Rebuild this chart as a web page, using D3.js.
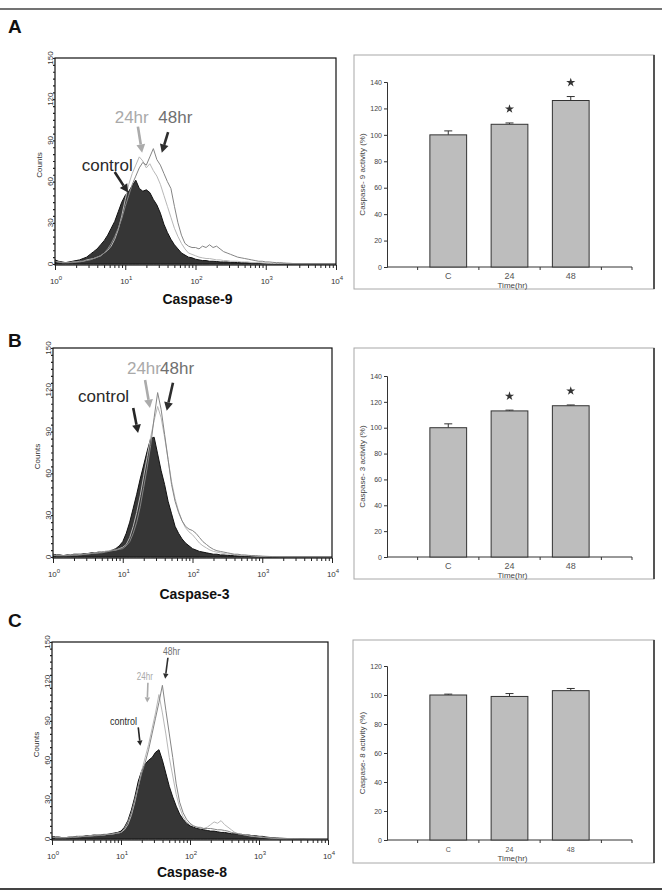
<!DOCTYPE html>
<html>
<head>
<meta charset="utf-8">
<script src="https://cdn.jsdelivr.net/npm/d3@7"></script>
<style>
  body { margin: 0; background: #fff; }
  svg { display: block; font-family: "Liberation Sans", Arial, sans-serif; }
</style>
</head>
<body>
<svg id="fig" width="662" height="892"></svg>
<script>
// ---- data ----
// log10 channel position of every histogram bin
const histLog = d3.range(81).map((i) => i * 0.05);

const casp9Control = [
  3, 2, 1.5, 1, 1.5, 2, 2.5, 3, 4, 5,
  7, 9, 11, 14, 17, 21, 26, 31, 38, 45,
  50, 53, 57, 61, 55, 53, 54, 52, 47, 43,
  37, 29, 23, 18, 14, 11, 8, 6.5, 5, 4.5,
  3.5, 3, 2.5, 2.5, 2, 2, 1.8, 1.5, 1.5, 1.5,
  1.2, 1.2, 1, 1, 1, 0.8, 0.6, 0.5, 0.4, 0.3,
  0.3, 0.2, 0.2, 0.1, 0.1, 0.1, 0, 0, 0, 0,
  0, 0, 0, 0, 0, 0, 0, 0, 0, 0, 0,
];
const casp9H24 = [
  2, 1.5, 1, 1, 1, 1.5, 1.5, 2, 2, 3,
  3.5, 4, 5, 6, 8, 10, 13, 18, 25, 35,
  47, 58, 66, 72, 78, 75, 70, 73, 68, 64,
  58, 50, 42, 34, 26, 20, 15, 11, 8, 7,
  6, 5, 4.5, 4, 4, 3.5, 3, 3, 2.5, 2.5,
  2, 2, 2, 1.5, 1.5, 1.5, 1, 1, 1, 0.8,
  0.6, 0.5, 0.4, 0.3, 0.3, 0.2, 0.2, 0.1, 0, 0,
  0, 0, 0, 0, 0, 0, 0, 0, 0, 0, 0,
];
const casp9H48 = [
  2, 1.5, 1, 1, 1, 1, 1.5, 1.5, 2, 2.5,
  3, 4, 5, 6, 8, 11, 15, 20, 26, 33,
  42, 50, 58, 64, 70, 74, 72, 78, 84, 76,
  72, 66, 60, 55, 42, 30, 21, 15, 13, 12,
  12, 11, 13, 12, 14, 12, 13, 11, 9, 8,
  7, 6, 5, 4.5, 4, 3.5, 3, 2.5, 2, 2,
  1.5, 1.5, 1.2, 1, 1, 0.8, 0.6, 0.5, 0.3, 0.2,
  0.2, 0.1, 0, 0, 0, 0, 0, 0, 0, 0, 0,
];

const casp3Control = [
  2, 1.5, 1.5, 1, 1.5, 1.5, 2, 2, 2, 2.5,
  2.5, 3, 3, 3.5, 3.5, 4, 4, 5, 6, 8,
  11, 17, 25, 35, 45, 56, 66, 76, 85, 86,
  74, 62, 52, 40, 31, 22, 17, 13, 10, 8,
  6, 5, 4, 3.5, 3, 2.5, 2, 2, 1.5, 1.5,
  1.2, 1, 1, 0.8, 0.6, 0.5, 0.4, 0.3, 0.2, 0.2,
  0.1, 0.1, 0, 0, 0, 0, 0, 0, 0, 0,
  0, 0, 0, 0, 0, 0, 0, 0, 0, 0, 0,
];
const casp3H24 = [
  1.5, 1, 1, 1, 1, 1.5, 1.5, 1.5, 2, 2,
  2.5, 2.5, 3, 3, 3.5, 4, 4.5, 5, 5, 6,
  7, 9, 14, 22, 32, 44, 58, 72, 86, 98,
  108, 100, 86, 70, 54, 42, 33, 26, 21, 18,
  16, 13, 10, 8, 6.5, 5, 4, 3.5, 3, 2.5,
  2, 2, 1.5, 1.5, 1.2, 1, 1, 0.8, 0.6, 0.5,
  0.4, 0.3, 0.3, 0.2, 0.2, 0.1, 0.1, 0, 0, 0,
  0, 0, 0, 0, 0, 0, 0, 0, 0, 0, 0,
];
const casp3H48 = [
  1.5, 1, 1, 1, 1, 1, 1.5, 1.5, 1.5, 2,
  2, 2.5, 2.5, 3, 3, 3.5, 4, 4.5, 5, 5.5,
  6, 8, 11, 17, 25, 36, 50, 64, 80, 100,
  118, 106, 88, 70, 52, 40, 32, 26, 22, 20,
  19, 17, 14, 11, 9, 7, 5.5, 4.5, 4, 3.5,
  3, 2.5, 2, 2, 1.5, 1.5, 1.2, 1, 1, 0.8,
  0.6, 0.5, 0.4, 0.3, 0.3, 0.2, 0.2, 0.1, 0.1, 0,
  0, 0, 0, 0, 0, 0, 0, 0, 0, 0, 0,
];

const casp8Control = [
  2, 1.5, 1.5, 1, 1, 1.5, 1.5, 2, 2, 2,
  2.5, 2.5, 3, 3, 3, 3.5, 3.5, 4, 4.5, 5,
  6, 9, 14, 22, 32, 44, 52, 57, 60, 62,
  66, 68, 60, 50, 40, 32, 25, 19, 15, 12,
  10, 9, 8, 7.5, 7, 6.5, 6, 6, 5.5, 5,
  5, 4.5, 4, 4, 3.5, 3.5, 3, 3, 2.5, 2.5,
  2, 2, 1.5, 1.2, 1, 0.8, 0.6, 0.5, 0.4, 0.3,
  0.2, 0.2, 0.1, 0.1, 0, 0, 0, 0, 0, 0, 0,
];
const casp8H24 = [
  1.5, 1, 1, 1, 1, 1.5, 1.5, 1.5, 2, 2,
  2, 2.5, 2.5, 3, 3, 3, 3.5, 3.5, 4, 4.5,
  5, 7, 11, 18, 28, 40, 52, 62, 72, 84,
  96, 110, 96, 80, 62, 48, 34, 24, 17, 13,
  11, 10, 9, 9, 8, 9, 11, 13, 12, 14,
  11, 9, 7, 5, 4, 3.5, 3, 2.5, 2, 1.8,
  1.5, 1.2, 1, 0.8, 0.6, 0.5, 0.4, 0.3, 0.2, 0.2,
  0.1, 0.1, 0, 0, 0, 0, 0, 0, 0, 0, 0,
];
const casp8H48 = [
  1.5, 1, 1, 1, 1, 1, 1.5, 1.5, 1.5, 2,
  2, 2, 2.5, 2.5, 3, 3, 3.5, 3.5, 4, 4.5,
  5, 8, 13, 20, 30, 40, 50, 58, 68, 80,
  92, 104, 117, 98, 80, 62, 42, 28, 20, 15,
  12, 10, 9, 8.5, 8, 8, 8, 7.5, 7, 7,
  6.5, 6, 5, 4.5, 4, 3.5, 3, 3, 2.5, 2,
  2, 1.5, 1.2, 1, 0.8, 0.6, 0.5, 0.4, 0.3, 0.2,
  0.2, 0.1, 0, 0, 0, 0, 0, 0, 0, 0, 0,
];

const countTicks = [0, 30, 60, 90, 120, 150];
const decadeTicks = [1, 10, 100, 1000, 10000];
const decadeExp = ["0", "1", "2", "3", "4"];

// bar charts
const timeCategories = ["C", "24", "48"];
const casp9Activity = [100, 108, 126];
const casp9Error = [3, 1, 3];
const casp9Signif = [false, true, true];
const casp3Activity = [100, 113, 117];
const casp3Error = [3, 0.6, 0.6];
const casp3Signif = [false, true, true];
const casp8Activity = [100, 99, 103];
const casp8Error = [0.6, 2, 1.5];
const casp8Signif = [false, false, false];

// arrow annotations, in data coordinates (log10 intensity, counts)
const casp9Notes = [
  { text: "24hr", kind: "h24", at: [0.85, 103], from: [1.18, 100], to: [1.24, 81] },
  { text: "48hr", kind: "h48", at: [1.47, 103], from: [1.61, 96], to: [1.52, 81] },
  { text: "control", kind: "ctl", at: [0.38, 68], from: [0.85, 67], to: [1.04, 52] },
];
const casp3Notes = [
  { text: "24hr", kind: "h24", at: [1.06, 131], from: [1.32, 127], to: [1.39, 107] },
  { text: "48hr", kind: "h48", at: [1.535, 131], from: [1.72, 125], to: [1.63, 105] },
  { text: "control", kind: "ctl", at: [0.36, 111], from: [1.15, 107], to: [1.22, 89] },
];
const casp8Notes = [
  { text: "48hr", kind: "h48", at: [1.61, 140], from: [1.68, 138], to: [1.64, 122] },
  { text: "24hr", kind: "h24", at: [1.23, 121], from: [1.39, 119], to: [1.38, 104] },
  { text: "control", kind: "ctl", at: [0.84, 87], from: [1.25, 85], to: [1.28, 71] },
];

// ---- styles ----
const textColors = { ctl: "#2a2a2a", h24: "#a9a9a9", h48: "#707070" };
const arrowColors = { ctl: "#262626", h24: "#ababab", h48: "#2e2e2e" };

const svg = d3.select("#fig");

// outer rules
svg.append("line").attr("x1", 0).attr("x2", 662).attr("y1", 9).attr("y2", 9)
  .attr("stroke", "#444").attr("stroke-width", 1.5);
svg.append("line").attr("x1", 0).attr("x2", 662).attr("y1", 889).attr("y2", 889)
  .attr("stroke", "#444").attr("stroke-width", 2);

const histPanels = [
  { letter: "A", letterY: 33, title: "Caspase-9", titleY: 304,
    series: [casp9Control, casp9H24, casp9H48], notes: casp9Notes,
    left: 55, top: 58, right: 336, bottom: 265, zero: 264, noteSize: 17, noteW: null, arrowW: 2.6 },
  { letter: "B", letterY: 347, title: "Caspase-3", titleY: 599,
    series: [casp3Control, casp3H24, casp3H48], notes: casp3Notes,
    left: 53, top: 348, right: 332, bottom: 558, zero: 557, noteSize: 17, noteW: null, arrowW: 2.6 },
  { letter: "C", letterY: 627, title: "Caspase-8", titleY: 877,
    series: [casp8Control, casp8H24, casp8H48], notes: casp8Notes,
    left: 52, top: 642, right: 328, bottom: 840, zero: 839, noteSize: 11, noteW: { ctl: 27, h24: 16, h48: 17 }, arrowW: 1.6 },
];

const drawArrow = (g, p0, p1, color, w) => {
  const ang = Math.atan2(p1[1] - p0[1], p1[0] - p0[0]);
  const head = w * 3.2;
  const hw = w * 1.7;
  const base = [p1[0] - head * Math.cos(ang), p1[1] - head * Math.sin(ang)];
  g.append("line")
    .attr("x1", p0[0]).attr("y1", p0[1])
    .attr("x2", base[0]).attr("y2", base[1])
    .attr("stroke", color).attr("stroke-width", w);
  const pts = [
    p1,
    [base[0] + hw * Math.sin(ang), base[1] - hw * Math.cos(ang)],
    [base[0] - hw * Math.sin(ang), base[1] + hw * Math.cos(ang)],
  ];
  g.append("polygon").attr("points", pts.map((p) => p.join(",")).join(" ")).attr("fill", color);
};

histPanels.forEach((p, pi) => {
  const x = d3.scaleLog().domain([1, 10000]).range([p.left, p.right]);
  const y = d3.scaleLinear().domain([0, 150]).range([p.zero, p.top]);
  const g = svg.append("g");

  g.append("text").attr("x", 8).attr("y", p.letterY).text(p.letter)
    .attr("font-size", 19).attr("font-weight", "bold").attr("fill", "#111");

  const clipId = "clip" + pi;
  g.append("clipPath").attr("id", clipId).append("rect")
    .attr("x", p.left).attr("y", p.top).attr("width", p.right - p.left).attr("height", p.bottom - p.top);

  const toPts = (arr) => arr.map((c, i) => ({ log: histLog[i], count: c }));
  const area = d3.area()
    .x((d) => x(Math.pow(10, d.log))).y0(y(0)).y1((d) => y(d.count));
  const line = d3.line()
    .x((d) => x(Math.pow(10, d.log))).y((d) => y(d.count));

  const plot = g.append("g").attr("clip-path", `url(#${clipId})`);
  plot.append("path").datum(toPts(p.series[0])).attr("d", area)
    .attr("fill", "#363636").attr("stroke", "#111").attr("stroke-width", 1);
  plot.append("path").datum(toPts(p.series[1])).attr("d", line)
    .attr("fill", "none").attr("stroke", "#b8b8b8").attr("stroke-width", 1);
  plot.append("path").datum(toPts(p.series[2])).attr("d", line)
    .attr("fill", "none").attr("stroke", "#858585").attr("stroke-width", 1);

  // frame
  g.append("rect").attr("x", p.left).attr("y", p.top)
    .attr("width", p.right - p.left).attr("height", p.bottom - p.top)
    .attr("fill", "none").attr("stroke", "#111").attr("stroke-width", 1.2);

  // x axis
  const minor = [];
  decadeTicks.slice(0, 4).forEach((d) => {
    for (let k = 2; k <= 9; k++) minor.push(d * k);
  });
  const xMinor = g.append("g").attr("transform", `translate(0,${p.bottom})`)
    .call(d3.axisBottom(x).tickValues(minor).tickSize(3).tickFormat(""));
  const xMajor = g.append("g").attr("transform", `translate(0,${p.bottom})`)
    .call(d3.axisBottom(x).tickValues(decadeTicks).tickSize(5).tickFormat(""));
  [xMinor, xMajor].forEach((a) => {
    a.select(".domain").remove();
    a.selectAll("line").attr("stroke", "#222");
  });
  decadeTicks.forEach((v, i) => {
    const t = g.append("text").attr("x", x(v) + 1).attr("y", p.bottom + 19)
      .attr("text-anchor", "middle").attr("fill", "#333").attr("font-size", 8);
    t.append("tspan").text("10");
    t.append("tspan").attr("dy", -4).attr("font-size", 6).text(decadeExp[i]);
  });

  // y axis
  const yMinor = g.append("g").attr("transform", `translate(${p.left},0)`)
    .call(d3.axisLeft(y).tickValues(d3.range(0, 151, 5)).tickSize(2).tickFormat(""));
  yMinor.select(".domain").remove();
  yMinor.selectAll("line").attr("stroke", "#222").attr("stroke-width", 1.2);
  countTicks.forEach((v) => {
    g.append("text")
      .attr("transform", `translate(${p.left - 2},${y(v)}) rotate(-90)`)
      .attr("text-anchor", "middle").attr("font-size", 8).attr("fill", "#333").text(v);
  });
  g.append("text")
    .attr("transform", `translate(${p.left - 13},${(p.top + p.zero) / 2 + 4}) rotate(-90)`)
    .attr("text-anchor", "middle").attr("font-size", 8).attr("fill", "#333").text("Counts");

  // title
  g.append("text").attr("x", (p.left + p.right) / 2 + 2).attr("y", p.titleY)
    .attr("text-anchor", "middle").attr("font-size", 14).attr("font-weight", "bold")
    .attr("fill", "#111").text(p.title);

  // annotations
  const px = (c) => [x(Math.pow(10, c[0])), y(c[1])];
  p.notes.forEach((n) => {
    const pos = px(n.at);
    const t = g.append("text").attr("x", pos[0]).attr("y", pos[1])
      .attr("font-size", p.noteSize).attr("fill", textColors[n.kind]).text(n.text);
    if (p.noteW) t.attr("textLength", p.noteW[n.kind]).attr("lengthAdjust", "spacingAndGlyphs");
    drawArrow(g, px(n.from), px(n.to), arrowColors[n.kind], p.arrowW);
  });
});

// ---- bar charts ----
const barPanels = [
  { values: casp9Activity, errors: casp9Error, signif: casp9Signif, yMax: 140,
    label: "Caspase- 9 activity (%)", box: [354, 55, 654, 289], plot: [387, 82, 632, 267], tickFont: 9 },
  { values: casp3Activity, errors: casp3Error, signif: casp3Signif, yMax: 140,
    label: "Caspase- 3 activity (%)", box: [354, 348, 654, 579], plot: [387, 376, 632, 557], tickFont: 9 },
  { values: casp8Activity, errors: casp8Error, signif: casp8Signif, yMax: 120,
    label: "Caspase- 8 activity (%)", box: [353, 640, 654, 863], plot: [387, 666, 632, 840], tickFont: 7 },
];

barPanels.forEach((b) => {
  const [bx0, by0, bx1, by1] = b.box;
  const [px0, py0, px1, py1] = b.plot;
  const g = svg.append("g");

  g.append("rect").attr("x", bx0).attr("y", by0).attr("width", bx1 - bx0).attr("height", by1 - by0)
    .attr("fill", "#fff").attr("stroke", "#a8a8a8").attr("stroke-width", 1);
  g.append("line").attr("x1", bx1).attr("x2", bx1).attr("y1", by0).attr("y2", by1)
    .attr("stroke", "#555").attr("stroke-width", 2);

  const x = d3.scaleBand().domain(timeCategories).range([px0, px1]).paddingInner(0).paddingOuter(0.5);
  const y = d3.scaleLinear().domain([0, b.yMax]).range([py1, py0]);
  const bw = x.bandwidth() * 0.6;

  const yAxis = g.append("g").attr("transform", `translate(${px0},0)`)
    .call(d3.axisLeft(y).tickValues(d3.range(0, b.yMax + 1, 20)).tickSize(3).tickPadding(2));
  yAxis.select(".domain").attr("stroke", "#333");
  yAxis.selectAll("line").attr("stroke", "#333");
  yAxis.selectAll("text").attr("font-size", 7).attr("fill", "#444").attr("font-family", "Liberation Sans, Arial, sans-serif");

  // x axis line with ticks on the band edges
  g.append("line").attr("x1", px0).attr("x2", px1).attr("y1", py1).attr("y2", py1).attr("stroke", "#333");
  const edges = timeCategories.map((c) => x(c)).concat([x(timeCategories[2]) + x.step(), px1]);
  g.selectAll(".xt").data(edges).join("line")
    .attr("x1", (d) => d).attr("x2", (d) => d).attr("y1", py1).attr("y2", py1 + 3).attr("stroke", "#333");
  g.selectAll(".xl").data(timeCategories).join("text")
    .attr("x", (d) => x(d) + x.bandwidth() / 2).attr("y", py1 + 12)
    .attr("text-anchor", "middle").attr("font-size", b.tickFont).attr("fill", "#555").text((d) => d);
  g.append("text").attr("x", (px0 + px1) / 2 + 3).attr("y", py1 + 21)
    .attr("text-anchor", "middle").attr("font-size", 8).attr("fill", "#444").text("Time(hr)");

  g.append("text")
    .attr("transform", `translate(${px0 - 22},${(py0 + py1) / 2}) rotate(-90)`)
    .attr("text-anchor", "middle").attr("font-size", 8).attr("fill", "#444").text(b.label);

  const rows = timeCategories.map((c, i) => ({ c, v: b.values[i], e: b.errors[i], s: b.signif[i] }));
  const cx = (d) => x(d.c) + x.bandwidth() / 2;

  // error bars (upper only)
  g.selectAll(".eb").data(rows).join("line")
    .attr("x1", cx).attr("x2", cx).attr("y1", (d) => y(d.v)).attr("y2", (d) => y(d.v + d.e))
    .attr("stroke", "#333").attr("stroke-width", 1);
  g.selectAll(".ec").data(rows).join("line")
    .attr("x1", (d) => cx(d) - 4).attr("x2", (d) => cx(d) + 4)
    .attr("y1", (d) => y(d.v + d.e)).attr("y2", (d) => y(d.v + d.e))
    .attr("stroke", "#333").attr("stroke-width", 1);

  g.selectAll(".bar").data(rows).join("rect")
    .attr("x", (d) => cx(d) - bw / 2).attr("y", (d) => y(d.v))
    .attr("width", bw).attr("height", (d) => y(0) - y(d.v))
    .attr("fill", "#bdbdbd").attr("stroke", "#333").attr("stroke-width", 1);

  g.selectAll(".star").data(rows.filter((d) => d.s)).join("path")
    .attr("d", d3.symbol().type(d3.symbolStar).size(26))
    .attr("transform", (d) => `translate(${cx(d)},${y(d.v + d.e) - 14})`)
    .attr("fill", "#333");
});
</script>
</body>
</html>
